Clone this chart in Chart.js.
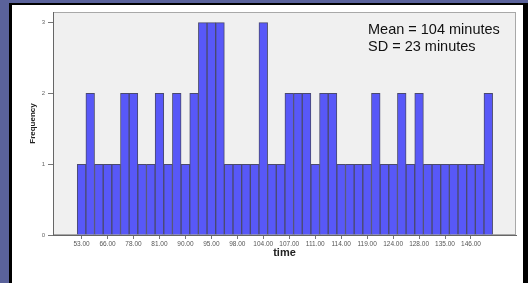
<!DOCTYPE html>
<html>
<head>
<meta charset="utf-8">
<script src="https://cdn.jsdelivr.net/npm/chart.js@4"></script>
<style>
    html, body { margin: 0; padding: 0; }
    body {
        width: 528px;
        height: 283px;
        overflow: hidden;
        position: relative;
        background: #5a629b;
        font-family: "Liberation Sans", Arial, sans-serif;
    }
    #panel {
        position: absolute;
        left: 9px;
        top: 3px;
        width: 511px;
        height: 300px;
        background: #fff;
        border-left: 3px solid #000;
        border-top: 2px solid #000;
        border-right: 5px solid #000;
    }
    #wrap {
        position: absolute;
        left: 0;
        top: 0;
        width: 528px;
        height: 283px;
    }
    #stats {
        position: absolute;
        left: 368px;
        top: 21px;
        font-size: 14.5px;
        line-height: 17px;
        color: #111;
    }
</style>
</head>
<body>
<div id="panel"></div>
<div id="wrap"><canvas id="histChart"></canvas></div>
<div id="stats">Mean = 104 minutes<br>SD = 23 minutes</div>

<script>
// Frequency of each time bin, left to right
const frequency = [1, 2, 1, 1, 1, 2, 2, 1, 1, 2, 1, 2, 1, 2, 3, 3, 3, 1, 1, 1, 1, 3, 1, 1,
                   2, 2, 2, 1, 2, 2, 1, 1, 1, 1, 2, 1, 1, 2, 1, 2, 1, 1, 1, 1, 1, 1, 1, 2];

// Labels shown under every third bin
const tickLabels = ['53.00', '66.00', '78.00', '81.00', '90.00', '95.00', '98.00', '104.00',
                    '107.00', '111.00', '114.00', '119.00', '124.00', '128.00', '135.00', '146.00'];
const labelEvery = 3;

const yTicks = [0, 1, 2, 3];

document.addEventListener('DOMContentLoaded', function() {
    // Gray plot background with a light frame
    const plotBackground = {
        id: 'plotBackground',
        beforeDraw(chart) {
            const { ctx, chartArea: a } = chart;
            ctx.save();
            ctx.fillStyle = '#f0f0f0';
            ctx.fillRect(a.left, a.top, a.right - a.left, a.bottom - a.top);
            ctx.strokeStyle = '#a8a8a8';
            ctx.lineWidth = 1;
            ctx.strokeRect(a.left + 0.5, a.top + 0.5, a.right - a.left - 1, a.bottom - a.top - 1);
            ctx.restore();
        }
    };

    const ctx = document.getElementById('histChart').getContext('2d');
    new Chart(ctx, {
        type: 'bar',
        data: {
            datasets: [{
                label: 'Frequency',
                data: frequency.map((v, i) => ({ x: i + 1, y: v })),
                backgroundColor: '#5858f8',
                borderColor: '#4a4a6e',
                borderWidth: 1,
                barPercentage: 1,
                categoryPercentage: 1
            }]
        },
        options: {
            responsive: true,
            maintainAspectRatio: false,
            animation: false,
            layout: {
                padding: { left: 0, top: 12, right: 12, bottom: 0 }
            },
            plugins: {
                legend: { display: false },
                tooltip: { enabled: false }
            },
            scales: {
                x: {
                    type: 'linear',
                    offset: false,
                    min: -2.3,
                    max: 51.2,
                    afterBuildTicks: scale => {
                        scale.ticks = tickLabels.map((l, i) => ({ value: 1 + i * labelEvery }));
                    },
                    afterFit: scale => { scale.height = 48; },
                    ticks: {
                        autoSkip: false,
                        maxRotation: 0,
                        padding: 1,
                        color: '#555',
                        font: { family: 'Liberation Sans', size: 6.5 },
                        callback: (value, index) => tickLabels[index]
                    },
                    grid: {
                        offset: false,
                        drawOnChartArea: false,
                        tickLength: 4,
                        color: '#777'
                    },
                    border: { color: '#666' },
                    title: {
                        display: true,
                        text: 'time',
                        color: '#222',
                        font: { family: 'Liberation Sans', size: 11, weight: 'bold' },
                        padding: { top: 0, bottom: 23 }
                    }
                },
                y: {
                    min: 0,
                    max: 3.15,
                    afterBuildTicks: scale => {
                        scale.ticks = yTicks.map(v => ({ value: v }));
                    },
                    afterFit: scale => { scale.width = 53; },
                    ticks: {
                        padding: 3,
                        color: '#666',
                        font: { family: 'Liberation Sans', size: 6 }
                    },
                    grid: {
                        drawOnChartArea: false,
                        tickLength: 5,
                        color: '#777'
                    },
                    border: { color: '#666' },
                    title: {
                        display: true,
                        text: 'Frequency',
                        color: '#222',
                        font: { family: 'Liberation Sans', size: 8, weight: 'bold' },
                        padding: { top: 28, bottom: 0 }
                    }
                }
            }
        },
        plugins: [plotBackground]
    });
});
</script>
</body>
</html>
